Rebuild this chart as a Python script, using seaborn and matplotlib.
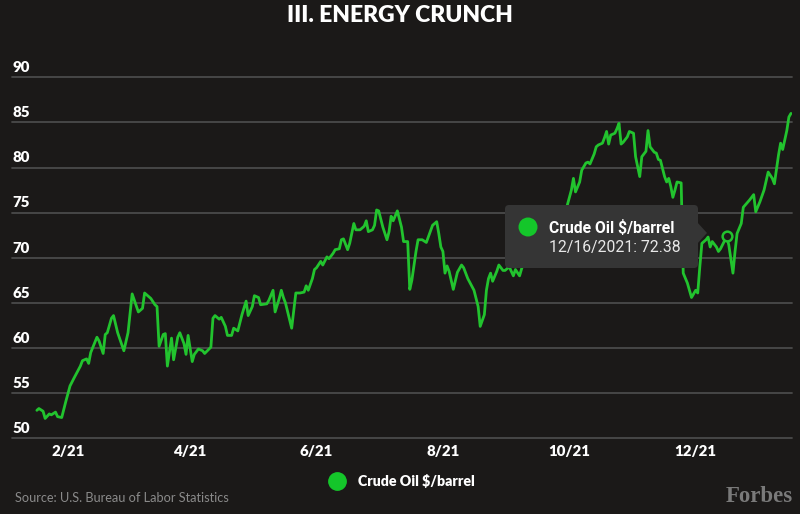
import matplotlib
matplotlib.use("Agg")
import matplotlib.pyplot as plt
import seaborn as sns
import pandas as pd
from matplotlib.patches import FancyBboxPatch, Circle, Polygon
from matplotlib.lines import Line2D
from matplotlib.transforms import IdentityTransform

# ---------------- data ----------------
title = "III. ENERGY CRUNCH"
series_name = "Crude Oil $/barrel"
source_note = "Source: U.S. Bureau of Labor Statistics"
brand = "Forbes"

start_date = "2021-01-01"
# day offsets from start_date
days = [16, 17, 19, 20, 22, 23, 25, 26, 28, 30, 32, 34, 37, 38, 40, 41, 42, 45, 46, 48,
        49, 50, 52, 53, 55, 58, 60, 62, 65, 67, 68, 71, 73, 74, 75,
        77, 78, 79, 81, 82, 84, 85, 87, 88, 89, 91, 92, 94, 96, 97, 100, 101, 102, 104,
        105, 107, 108, 110, 111, 113, 115, 117, 118, 120, 121, 123, 124, 127, 128, 130,
        131, 133, 134,
        135, 136, 139, 141, 143, 145, 146, 147, 149, 150, 151, 153, 154, 156, 157, 159,
        160, 162, 163, 164, 166, 167, 169, 170, 172, 174, 175, 176, 178, 179, 180, 181,
        183, 185, 186, 187, 188, 190, 192, 193, 195, 196,
        197, 199, 200, 202, 204, 207, 209, 210, 211, 212, 213, 214, 215, 217, 219, 221,
        222, 224, 227, 229, 230, 232, 233, 234, 235, 236, 238, 239, 241, 242,
        244, 246, 247, 249, 250, 252, 254, 256, 259, 261, 263, 266, 268, 270,
        272, 274, 275, 276, 278, 279, 281, 282, 283, 285, 286, 287, 289, 290, 291, 292,
        293, 295, 296, 297, 298, 299, 301, 302, 304, 305, 307, 308, 310, 311, 312, 314,
        315, 316, 317,
        319, 320, 321, 322, 323, 324, 325, 327, 328, 330, 332, 334, 335, 336, 337, 339,
        340, 341, 342, 344, 345, 346, 349, 350, 352, 353, 354, 356, 357, 360, 362, 363,
        365, 367, 369, 371, 372, 374, 375, 376, 378, 379, 380]
prices = [53.1, 53.3, 53.0, 52.2, 52.7, 52.6, 52.9, 52.4, 52.3, 54.1, 55.8, 56.7, 58.0, 58.6, 58.8, 58.3, 59.5, 61.2, 60.8, 59.4,
          61.5, 61.7, 63.3, 63.6, 61.7, 59.7, 61.7, 66.0, 64.0, 64.4, 66.1, 65.5, 64.8, 64.6, 60.2,
          61.5, 61.6, 58.0, 61.1, 58.7, 61.2, 61.7, 60.5, 59.3, 61.4, 58.5, 59.3, 59.9, 59.7, 59.4, 60.1, 63.3, 63.6, 63.2,
          63.4, 62.4, 61.4, 61.4, 62.2, 61.9, 63.7, 65.2, 63.6, 64.6, 65.8, 65.6, 64.8, 64.9, 65.3, 66.4,
          64.0, 65.5, 66.4,
          65.6, 65.0, 62.2, 66.1, 66.1, 66.2, 66.9, 66.4, 67.7, 68.7, 68.9, 69.6, 69.2, 70.1, 69.9, 70.5,
          70.9, 71.0, 72.0, 72.1, 70.9, 71.6, 73.8, 73.1, 73.1, 73.5, 74.1, 72.9, 73.1, 73.6, 75.3, 75.2,
          73.4, 72.0, 72.9, 74.6, 74.1, 75.2, 73.4, 71.8, 71.8, 66.5,
          67.5, 70.7, 72.0, 72.0, 71.7, 73.6, 74.0, 72.7, 71.2, 70.7, 68.3, 69.1, 68.5, 66.5, 68.4, 69.2,
          68.9, 67.7, 66.4, 64.6, 62.4, 63.7, 66.4, 67.7, 68.3, 67.4, 68.5, 69.2, 68.6, 68.6,
          69.0, 68.0, 68.7, 68.0, 68.8, 70.0, 70.5, 70.0, 71.5, 72.5, 72.0, 73.5, 74.5, 74.8,
          75.8, 77.5, 78.8, 77.3, 78.4, 79.7, 80.5, 80.6, 80.4, 81.5, 82.3, 82.5, 82.7, 83.3, 84.0, 82.6,
          83.6, 83.8, 84.3, 84.9, 82.6, 82.8, 83.4, 84.0, 83.8, 81.2, 79.0, 81.2, 81.8, 84.1, 82.3, 81.7,
          81.6, 80.9, 80.8,
          79.0, 78.4, 78.8, 77.9, 76.7, 77.5, 78.4, 78.3, 68.3, 67.2, 65.6, 66.4, 66.1, 69.0, 71.6, 72.0,
          72.3, 71.2, 71.8, 71.2, 70.7, 71.0, 72.38, 71.4, 68.3, 70.7, 72.7, 73.8, 75.6, 76.4, 77.0, 75.1,
          76.2, 77.5, 79.5, 78.8, 78.2, 81.4, 82.7, 82.0, 84.1, 85.6, 86.0]

ytick_values = [50, 55, 60, 65, 70, 75, 80, 85, 90]
xtick_dates = ["2021-02-01", "2021-04-01", "2021-06-01", "2021-08-01", "2021-10-01", "2021-12-01"]
xtick_labels = ["2/21", "4/21", "6/21", "8/21", "10/21", "12/21"]
hover_date = "2021-12-16"
hover_value = 72.38

assert len(days) == len(prices)

# ---------------- style ----------------
BG = "#1b1918"
GRID = "#4a4a4a"
LINE = "#22c32e"
DOT = "#14c62a"
W, H = 800, 514

sns.set_style("dark", {"axes.facecolor": BG, "figure.facecolor": BG})
plt.rcParams["font.family"] = ["Lato", "DejaVu Sans"]

fig = plt.figure(figsize=(W / 100, H / 100), dpi=100, facecolor=BG)
ax_left, ax_right, ax_top, ax_bottom = 12, 792, 77.3, 438.3
ax = fig.add_axes([ax_left / W, (H - ax_bottom) / H, (ax_right - ax_left) / W, (ax_bottom - ax_top) / H])
ax.set_facecolor(BG)

base = pd.Timestamp(start_date)
df = pd.DataFrame({"date": base + pd.to_timedelta(days, unit="D"), "price": prices})
sns.lineplot(data=df, x="date", y="price", ax=ax, color=LINE, linewidth=2.0, zorder=3)

ax.set_ylim(50, 90)
ax.set_xlim(base + pd.Timedelta(days=4.0), base + pd.Timedelta(days=380.5))
ax.set_xlabel("")
ax.set_ylabel("")
for s in ax.spines.values():
    s.set_visible(False)

ax.set_yticks(ytick_values)
ax.set_yticklabels([])
ax.tick_params(axis="y", length=0)
ax.grid(axis="y", color=GRID, linewidth=1.3)
ax.grid(axis="x", visible=False)
for gl in ax.get_ygridlines():
    gl.set_clip_on(False)
for v in ytick_values:
    ax.annotate(str(v), xy=(0, v), xycoords=ax.get_yaxis_transform(), xytext=(0.5, 2.3),
                textcoords="offset points", ha="left", va="bottom", color="white",
                fontsize=10.8, fontweight="heavy")

ax.set_xticks(pd.to_datetime(xtick_dates))
ax.set_xticklabels(xtick_labels, fontsize=10.8, fontweight="heavy", color="white")
ax.tick_params(axis="x", length=0, pad=4.5)

# hovered point marker
ax.plot([pd.Timestamp(hover_date)], [hover_value], marker="o", markersize=7, markerfacecolor=BG,
        markeredgecolor=LINE, markeredgewidth=1.8, zorder=6, clip_on=False)

# title
fig.text(0.5, 1 - 16 / H, title, ha="center", va="center", fontsize=16.5, fontweight="heavy", color="white")

# legend
fig.legend(handles=[Line2D([], [], marker="o", linestyle="none", markersize=12.5,
                           markerfacecolor=DOT, markeredgecolor=DOT)],
           labels=[series_name], loc="center", bbox_to_anchor=(399 / W, 1 - 481 / H),
           frameon=False, labelcolor="white", prop={"weight": "heavy", "size": 10.2},
           handletextpad=0.5)

# footer
fig.text(15 / W, 1 - 498 / H, source_note, ha="left", va="center", fontsize=9.2, color="#8a8a8a")
fig.text(793 / W, 1 - 497 / H, brand, ha="right", va="center", fontsize=16.5, fontweight="bold",
         family=["Liberation Serif", "DejaVu Serif"], color="#7a7a7a")

# tooltip
ident = IdentityTransform()
box = FancyBboxPatch((505, H - 268), 193, 63, boxstyle="round,pad=0,rounding_size=4",
                     facecolor="#353535", edgecolor="none", transform=ident, zorder=10)
fig.add_artist(box)
tri = Polygon([(697, H - 222), (707, H - 233), (697, H - 244)], closed=True,
              facecolor="#353535", edgecolor="none", transform=ident, zorder=10)
fig.add_artist(tri)
fig.add_artist(Circle((528, H - 227), 9.5, facecolor=DOT, edgecolor="none", transform=ident, zorder=11))
hd = pd.Timestamp(hover_date)
fig.text(549, H - 233, series_name, transform=ident, ha="left", va="baseline", fontsize=11.3,
         fontweight="bold", color="white", family=["Roboto", "DejaVu Sans"], zorder=12)
fig.text(549, H - 252, f"{hd.month}/{hd.day}/{hd.year}: {hover_value:.2f}", transform=ident,
         ha="left", va="baseline", fontsize=11.3, color="#e8e8e8", family=["Roboto", "DejaVu Sans"], zorder=12)

fig.savefig("out.png", dpi=100, facecolor=BG)
